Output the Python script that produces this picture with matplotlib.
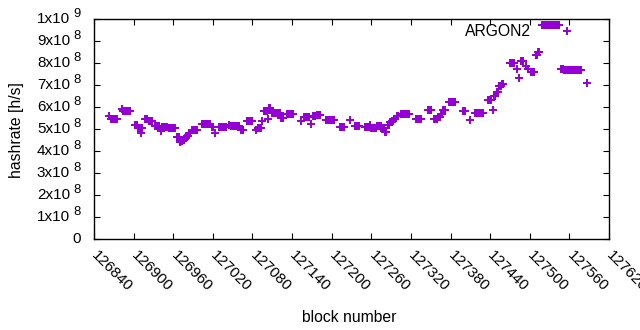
import numpy as np
import matplotlib
matplotlib.use("Agg")
import matplotlib.pyplot as plt
from matplotlib.ticker import FixedLocator, NullFormatter

plt.rcParams['font.family'] = ['Liberation Sans', 'DejaVu Sans']

# Runs of equal hashrate: first block, number of blocks, hashrate (x1e8 h/s)
run_start = [126863, 126866, 126882, 126884, 126902, 126907, 126911, 126917, 126923, 126933,
             126941, 126943, 126953, 126965, 126970, 126972, 126975, 126978, 126981, 126984,
             126989, 127003, 127018, 127024, 127030, 127045, 127047, 127063, 127071, 127085,
             127088, 127094, 127097, 127103, 127105, 127110, 127123, 127133, 127154, 127158,
             127168, 127172, 127178, 127191, 127213, 127228, 127235, 127250, 127258, 127260,
             127269, 127275, 127281, 127286, 127289, 127292, 127295, 127299, 127305, 127328,
             127346, 127355, 127361, 127366, 127369, 127378, 127399, 127410, 127417, 127437,
             127444, 127446, 127450, 127454, 127458, 127470, 127481, 127483, 127486, 127494,
             127497, 127502, 127509, 127513, 127519, 127548, 127552, 127586]
run_length = [1, 10, 1, 12, 4, 6, 1, 5, 6, 7,
              1, 8, 10, 4, 2, 3, 3, 3, 3, 2,
              8, 13, 3, 1, 11, 1, 14, 4, 10, 1,
              6, 1, 6, 1, 3, 12, 5, 10, 1, 8,
              1, 4, 6, 14, 7, 1, 7, 8, 1, 8,
              6, 5, 3, 2, 2, 2, 2, 2, 13, 9,
              6, 5, 4, 2, 3, 10, 4, 1, 13, 5,
              1, 3, 3, 3, 3, 7, 1, 1, 4, 1,
              1, 6, 3, 2, 27, 4, 26, 1]
run_value = [5.6, 5.45, 5.9, 5.8, 5.2, 5.05, 4.8, 5.45, 5.35, 5.15,
             4.9, 5.1, 5.05, 4.65, 4.4, 4.45, 4.5, 4.6, 4.7, 4.8,
             4.95, 5.25, 5.1, 4.8, 5.1, 5.2, 5.15, 4.95, 5.35, 4.95,
             5.05, 5.35, 5.8, 5.45, 5.95, 5.75, 5.5, 5.7, 5.35, 5.55,
             5.25, 5.6, 5.65, 5.4, 5.1, 5.4, 5.12, 5.1, 5.2, 5.05,
             5.15, 5.05, 4.85, 5.2, 5.3, 5.35, 5.45, 5.6, 5.7, 5.44,
             5.85, 5.45, 5.55, 5.7, 5.85, 6.22, 5.8, 5.4, 5.75, 6.3,
             5.85, 6.5, 6.7, 6.95, 7.05, 8.0, 7.75, 7.3, 8.1, 7.85,
             7.75, 7.6, 8.35, 8.5, 9.73, 7.75, 7.68, 7.1]

series_label = "ARGON2"
x_ticks = list(range(126840, 127621, 60))
y_mantissa = [0, 1, 2, 3, 4, 5, 6, 7, 8, 9, 1]
y_exponent = [0, 8, 8, 8, 8, 8, 8, 8, 8, 8, 9]
y_ticks = [m * 10.0 ** e if m else 0.0 for m, e in zip(y_mantissa, y_exponent)]

blocks = np.concatenate([np.arange(s, s + n) for s, n in zip(run_start, run_length)])
rates = np.repeat(np.array(run_value) * 1e8, run_length)

PX = 0.72  # points per pixel at 100 dpi
color = '#9400d3'
fig = plt.figure(figsize=(6.4, 3.3), dpi=100)
ax = fig.add_axes([94 / 640, 1 - 239 / 330, 515 / 640, 220 / 330])

ax.plot(blocks, rates, linestyle='none', marker='+', markersize=6.0,
        markeredgewidth=1.4, color=color, label=series_label)

ax.set_xlim(126840, 127620)
ax.set_ylim(0, 1e9)
ax.xaxis.set_major_locator(FixedLocator(x_ticks))
ax.yaxis.set_major_locator(FixedLocator(y_ticks))
ax.yaxis.set_major_formatter(NullFormatter())

fs = 11
ax.tick_params(direction='in', length=4, width=0.8, top=True, right=True,
               labelsize=fs, colors='black')
ax.tick_params(axis='x', pad=10)
for lab in ax.get_xticklabels():
    lab.set_rotation(-45)
    lab.set_ha('left')
    lab.set_va('center')
    lab.set_rotation_mode('anchor')

# y tick labels in gnuplot style "5x10^8"
for m, e, v in zip(y_mantissa, y_exponent, y_ticks):
    if m == 0:
        ax.annotate("0", xy=(0, v), xycoords=('axes fraction', 'data'),
                    xytext=(-13 * PX, 0), textcoords='offset points',
                    ha='right', va='center', fontsize=fs)
        continue
    ax.annotate(str(e), xy=(0, v), xycoords=('axes fraction', 'data'),
                xytext=(-13 * PX, 5 * PX), textcoords='offset points',
                ha='right', va='center', fontsize=fs * 0.85)
    ax.annotate(f"{m}x10", xy=(0, v), xycoords=('axes fraction', 'data'),
                xytext=(-24 * PX, 0), textcoords='offset points',
                ha='right', va='center', fontsize=fs)

for sp in ax.spines.values():
    sp.set_linewidth(1.0)
    sp.set_color('black')

ax.set_xlabel("block number", fontsize=11.3)
ax.xaxis.set_label_coords((349 - 94) / 515, -(310 - 239) / 220)
ax.set_ylabel("hashrate [h/s]", fontsize=11.3)
ax.yaxis.set_label_coords(-(94 - 24) / 515, (239 - 130) / 220)

ax.legend(loc='center right', bbox_to_anchor=((583 - 94) / 515, 1 - (32 - 19) / 220),
          frameon=False, markerfirst=False, fontsize=11.3, borderpad=0,
          borderaxespad=0, handlelength=2, handletextpad=1.3)

fig.savefig("out.png", dpi=100)
